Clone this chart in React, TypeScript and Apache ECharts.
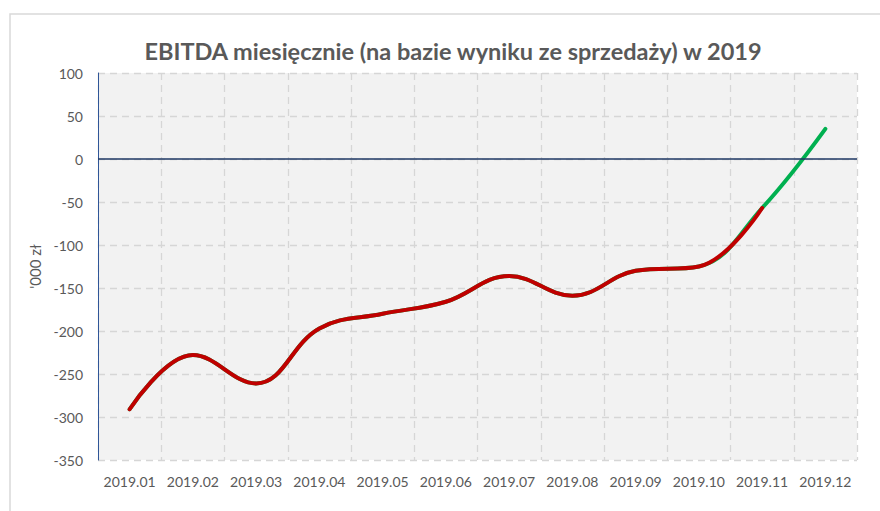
import React, { useEffect, useRef } from "react";
import * as echarts from "echarts";

const categories = ["2019.01", "2019.02", "2019.03", "2019.04", "2019.05", "2019.06", "2019.07", "2019.08", "2019.09", "2019.10", "2019.11", "2019.12"];
const actualValues: (number | null)[] = [-291, -228, -261, -197, -180, -166, -136, -159, -130, -125, -57, null];
const forecastValues: (number | null)[] = [-291, -228, -261, -197, -180, -166, -136, -159, -130, -125, -57, 35];
const yTicks = { min: -350, max: 100, interval: 50 };
const titleText = "EBITDA miesięcznie (na bazie wyniku ze sprzedaży) w 2019";
const yAxisName = "'000 zł";

export default function App() {
  const ref = useRef<HTMLDivElement>(null);
  useEffect(() => {
    if (!ref.current) return;
    const chart = echarts.init(ref.current, undefined, { renderer: "svg" });
    const font = "Lato, 'Open Sans', sans-serif";
    chart.setOption({
      animation: false,
      backgroundColor: "#ffffff",
      textStyle: { fontFamily: font },
      title: {
        text: titleText,
        left: 448,
        textAlign: "center",
        top: 34,
        textStyle: { fontFamily: font, fontSize: 23.5, fontWeight: "bold", color: "#595959" },
      },
      graphic: [
        {
          type: "rect",
          shape: { x: 10, y: 14, width: 900, height: 520 },
          style: { fill: "none", stroke: "#D9D9D9", lineWidth: 1.5 },
          silent: true,
          z: -1,
        },
      ],
      grid: {
        left: 98,
        right: 23,
        top: 73,
        bottom: 51,
        show: true,
        backgroundColor: "#F2F2F2",
        borderWidth: 0,
      },
      xAxis: {
        type: "category",
        data: categories,
        boundaryGap: true,
        axisLine: { show: false, onZero: false },
        axisTick: { show: false },
        axisLabel: { color: "#595959", fontSize: 14, margin: 14, interval: 0, fontFamily: font },
        splitLine: { show: true, interval: 0, lineStyle: { color: "#D6D6D6", type: [7, 5], width: 1.3 } },
      },
      yAxis: {
        type: "value",
        min: yTicks.min,
        max: yTicks.max,
        interval: yTicks.interval,
        name: yAxisName,
        nameLocation: "middle",
        nameRotate: 90,
        nameGap: 50,
        nameTextStyle: { color: "#595959", fontSize: 15, fontFamily: font },
        axisLine: { show: true, lineStyle: { color: "#2F5597", width: 1 } },
        axisTick: { show: false },
        axisLabel: { color: "#595959", fontSize: 14, margin: 15, fontFamily: font },
        splitLine: { show: true, lineStyle: { color: "#D6D6D6", type: [7, 5], width: 1.3 } },
      },
      series: [
        {
          name: "Prognoza",
          type: "line",
          data: forecastValues,
          smooth: 0.4,
          showSymbol: false,
          connectNulls: false,
          lineStyle: { color: "#00B050", width: 4, cap: "round" },
          z: 2,
        },
        {
          name: "Wykonanie",
          type: "line",
          data: actualValues,
          smooth: 0.4,
          showSymbol: false,
          connectNulls: false,
          lineStyle: { color: "#C00000", width: 4, cap: "round" },
          z: 3,
          markLine: {
            silent: true,
            symbol: "none",
            label: { show: false },
            lineStyle: { color: "#1F3864", type: "solid", width: 1.5 },
            data: [{ yAxis: 0 }],
          },
        },
      ],
    });
    return () => chart.dispose();
  }, []);
  return <div ref={ref} style={{ position: "absolute", left: 0, top: 0, width: 880, height: 511 }} />;
}
